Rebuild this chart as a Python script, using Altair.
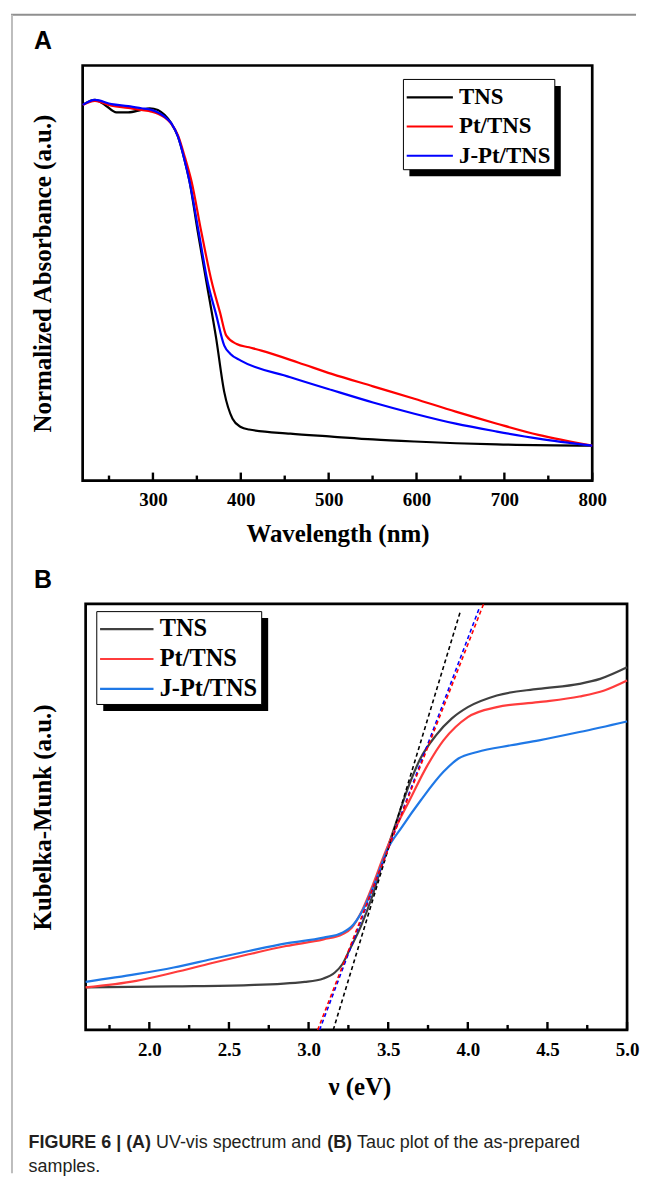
import altair as alt
import pandas as pd

SERIES = ["TNS", "Pt/TNS", "J-Pt/TNS"]
COLORS_A = ["#000000", "#ff0000", "#0000ff"]
COLORS_B = ["#404040", "#ff3c3c", "#1f78e6"]

# ---------------- Panel A: UV-vis spectrum ----------------
A_TNS_WL = [220, 234, 245.3, 258.5, 271.8, 286.8, 296.3, 305.7, 313.2, 320.8, 328.4, 335.9,
            341.6, 351, 361, 371.8, 381.2, 390.6, 400, 409.4, 456.4, 503.5, 550.5, 597.6, 691.6, 800]
A_TNS_ABS = [0.905, 0.917, 0.905, 0.887, 0.887, 0.893, 0.897, 0.893, 0.881, 0.861, 0.829, 0.773,
             0.721, 0.60, 0.477, 0.345, 0.213, 0.149, 0.129, 0.123, 0.113, 0.106, 0.099, 0.094, 0.087, 0.084]
A_PT_WL = [220, 234, 252.9, 271.8, 286.8, 298.2, 305.7, 313.2, 320.8, 328.4, 336.5, 343.9, 355,
           367.1, 376.5, 383.5, 395.3, 409.4, 423.5, 465.9, 503.5, 550.5, 597.6, 644.6, 691.6, 738.7, 800]
A_PT_ABS = [0.905, 0.915, 0.903, 0.898, 0.893, 0.889, 0.884, 0.875, 0.860, 0.832, 0.778, 0.721, 0.60,
            0.477, 0.404, 0.349, 0.329, 0.321, 0.313, 0.284, 0.257, 0.227, 0.197, 0.166, 0.137, 0.110, 0.084]
A_JPT_WL = [220, 234, 252.9, 271.8, 286.8, 298.2, 305.7, 313.2, 320.8, 328.4, 335.9, 341.6, 352,
            362.4, 371.8, 381.2, 388.2, 400, 456.4, 503.5, 550.5, 597.6, 644.6, 691.6, 738.7, 800]
A_JPT_ABS = [0.905, 0.917, 0.907, 0.902, 0.897, 0.893, 0.887, 0.877, 0.861, 0.829, 0.773, 0.721, 0.60,
             0.477, 0.401, 0.325, 0.305, 0.289, 0.249, 0.218, 0.188, 0.161, 0.137, 0.118, 0.101, 0.084]
A_MAJOR = [300, 400, 500, 600, 700, 800]
A_MINOR = [250, 350, 450, 550, 650, 750]

# ---------------- Panel B: Tauc plot ----------------
B_TNS_EV = [1.6, 2.153, 2.624, 2.976, 3.094, 3.165, 3.212, 3.259, 3.329, 3.4, 3.471, 3.541, 3.635,
            3.7, 3.8, 3.9, 4.0, 4.182, 4.442, 4.701, 4.831, 5.0]
B_TNS_KM = [0.427, 0.437, 0.45, 0.483, 0.517, 0.577, 0.66, 0.81, 1.043, 1.343, 1.71, 2.043, 2.477,
            2.72, 2.96, 3.13, 3.243, 3.36, 3.427, 3.477, 3.527, 3.643]
B_PT_EV = [1.6, 1.918, 2.153, 2.388, 2.624, 2.859, 3.094, 3.212, 3.271, 3.329, 3.4, 3.471, 3.541,
           3.635, 3.741, 3.847, 3.923, 4.0, 4.182, 4.442, 4.701, 4.857, 5.0]
B_PT_KM = [0.427, 0.493, 0.577, 0.67, 0.76, 0.843, 0.91, 0.96, 1.027, 1.177, 1.443, 1.743, 2.01,
           2.31, 2.643, 2.91, 3.043, 3.143, 3.243, 3.293, 3.35, 3.41, 3.51]
B_JPT_EV = [1.6, 1.918, 2.153, 2.388, 2.624, 2.859, 3.094, 3.212, 3.282, 3.353, 3.424, 3.494, 3.588,
            3.706, 3.847, 3.941, 4.059, 4.271, 4.447, 4.701, 5.0]
B_JPT_KM = [0.483, 0.56, 0.627, 0.71, 0.793, 0.87, 0.927, 0.977, 1.06, 1.243, 1.51, 1.81, 2.043,
            2.31, 2.593, 2.727, 2.793, 2.86, 2.91, 2.993, 3.1]
# linear-fit (tangent) lines: two end points each
FIT_TNS_EV = [3.155, 3.954]
FIT_TNS_KM = [0.0, 4.21]
FIT_PT_EV = [3.057, 4.099]
FIT_PT_KM = [0.0, 4.28]
FIT_JPT_EV = [3.069, 4.073]
FIT_JPT_KM = [0.0, 4.243]
B_MAJOR = [2.0, 2.5, 3.0, 3.5, 4.0, 4.5, 5.0]
B_MINOR = [1.75, 2.25, 2.75, 3.25, 3.75, 4.25, 4.75]

CAPTION_1 = ["FIGURE 6 | (A)", "UV-vis spectrum and", "(B)", "Tauc plot of the as-prepared"]
CAPTION_2 = "samples."

SERIF = "Liberation Serif"
SANS = "Liberation Sans"

df_a = pd.concat([
    pd.DataFrame({"wl": A_TNS_WL, "absorb": A_TNS_ABS, "series": SERIES[0]}),
    pd.DataFrame({"wl": A_PT_WL, "absorb": A_PT_ABS, "series": SERIES[1]}),
    pd.DataFrame({"wl": A_JPT_WL, "absorb": A_JPT_ABS, "series": SERIES[2]}),
], ignore_index=True)
df_b = pd.concat([
    pd.DataFrame({"ev": B_TNS_EV, "km": B_TNS_KM, "series": SERIES[0]}),
    pd.DataFrame({"ev": B_PT_EV, "km": B_PT_KM, "series": SERIES[1]}),
    pd.DataFrame({"ev": B_JPT_EV, "km": B_JPT_KM, "series": SERIES[2]}),
], ignore_index=True)
fits = [
    (pd.DataFrame({"ev": FIT_TNS_EV, "km": FIT_TNS_KM}), "#000000"),
    (pd.DataFrame({"ev": FIT_JPT_EV, "km": FIT_JPT_KM}), "#0000ff"),
    (pd.DataFrame({"ev": FIT_PT_EV, "km": FIT_PT_KM}), "#ff0000"),
]

WA, HA = 512, 417
WB, HB = 544, 428

x_axis_common = dict(grid=False, domain=False, ticks=False, tickSize=0, labelFont=SERIF,
                     labelFontSize=19, labelFontWeight="bold", labelColor="black",
                     labelFlush=False, labelOverlap=False, labelBound=False,
                     titleFont=SERIF, titleFontSize=25, titleFontWeight="bold", titleColor="black",
                     titleAlign="center", titleBaseline="alphabetic")
y_axis_common = dict(grid=False, domain=False, ticks=False, labels=False, titleFont=SERIF,
                     titleFontSize=25, titleFontWeight="bold", titleColor="black",
                     titleAngle=270, titleAlign="center", titleBaseline="middle")

xa = alt.X("wl:Q", scale=alt.Scale(domain=[220, 800], nice=False, zero=False),
           axis=alt.Axis(values=A_MAJOR, format="d", title="Wavelength (nm)", labelPadding=10,
                         titleX=WA / 2, titleY=61, **x_axis_common))
ya = alt.Y("absorb:Q", scale=alt.Scale(domain=[0, 1], nice=False, zero=False),
           axis=alt.Axis(title="Normalized Absorbance (a.u.)", titleX=-40.5, titleY=HA / 2,
                         **y_axis_common))
xb = alt.X("ev:Q", scale=alt.Scale(domain=[1.6, 5.0], nice=False, zero=False),
           axis=alt.Axis(values=B_MAJOR, format=".1f", title="ν (eV)", labelPadding=11,
                         titleX=275, titleY=65, **x_axis_common))
yb = alt.Y("km:Q", scale=alt.Scale(domain=[0, 4.28], nice=False, zero=False),
           axis=alt.Axis(title="Kubelka-Munk (a.u.)", titleX=-43, titleY=HB / 2, **y_axis_common))

one = pd.DataFrame({"k": [0]})


def text_at(txt, x, y, size, weight="bold", font=SERIF, color="black", align="left", baseline="alphabetic"):
    return alt.Chart(one).mark_text(text=txt, font=font, fontSize=size, fontWeight=weight, color=color,
                                    align=align, baseline=baseline).encode(x=alt.value(x), y=alt.value(y))


def ticks_layer(df, xenc, h, length):
    return alt.Chart(df).mark_rule(color="black", strokeWidth=2.4).encode(
        x=xenc, y=alt.value(h), y2=alt.value(h - length))


def legend_layers(box, shadow, line_x, ys, text_x, colors, size, lw):
    layers = [
        alt.Chart(one).mark_rect(color="black").encode(
            x=alt.value(shadow[0]), x2=alt.value(shadow[2]), y=alt.value(shadow[1]), y2=alt.value(shadow[3])),
        alt.Chart(one).mark_rect(fill="white", stroke="black", strokeWidth=1).encode(
            x=alt.value(box[0]), x2=alt.value(box[2]), y=alt.value(box[1]), y2=alt.value(box[3])),
    ]
    for name, col, yy in zip(SERIES, colors, ys):
        d = pd.DataFrame({"series": [name]})
        layers.append(alt.Chart(d).mark_rule(color=col, strokeWidth=lw).encode(
            x=alt.value(line_x[0]), x2=alt.value(line_x[1]), y=alt.value(yy)))
        layers.append(alt.Chart(d).mark_text(font=SERIF, fontSize=size, fontWeight="bold", color="black",
                                             align="left", baseline="middle").encode(
            x=alt.value(text_x), y=alt.value(yy), text="series:N"))
    return layers


# ---- panel A layers ----
a_lines = alt.Chart(df_a).mark_line(strokeWidth=2.2, interpolate="monotone").encode(
    x=xa, y=ya,
    color=alt.Color("series:N", scale=alt.Scale(domain=SERIES, range=COLORS_A), legend=None),
    detail="series:N")
a_major = ticks_layer(pd.DataFrame({"wl": A_MAJOR}), xa, HA, 8)
a_minor = ticks_layer(pd.DataFrame({"wl": A_MINOR}), xa, HA, 5)
frame_top = alt.Chart(one).mark_rule(color="#8f8f8f", strokeWidth=2).encode(
    x=alt.value(-72), x2=alt.value(556), y=alt.value(-51))
frame_left = alt.Chart(one).mark_rule(color="#bdbdbd", strokeWidth=2).encode(
    x=alt.value(-71), y=alt.value(-51), y2=alt.value(1113))
label_a = text_at("A", -49, -17, 25, font=SANS)
legend_a = legend_layers(box=(322.3, 14, 474.4, 104.7), shadow=(328.3, 20.5, 480.4, 111.2),
                         line_x=(325.6, 372), ys=(32, 61.3, 90.7), text_x=378.1,
                         colors=COLORS_A, size=23, lw=2.2)

panel_a = alt.layer(frame_top, frame_left, label_a, a_major, a_minor, a_lines, *legend_a).properties(
    width=WA, height=HA, view=alt.ViewBackground(stroke="black", strokeWidth=2.7))

# ---- panel B layers ----
b_lines = alt.Chart(df_b).mark_line(strokeWidth=2.2, interpolate="monotone").encode(
    x=xb, y=yb,
    color=alt.Color("series:N", scale=alt.Scale(domain=SERIES, range=COLORS_B), legend=None),
    detail="series:N")
b_fits = [alt.Chart(d).mark_line(strokeWidth=1.6, strokeDash=[4, 3], color=c).encode(x=xb, y=yb)
          for d, c in fits]
b_major = ticks_layer(pd.DataFrame({"ev": B_MAJOR}), xb, HB, 8)
b_minor = ticks_layer(pd.DataFrame({"ev": B_MINOR}), xb, HB, 5)
label_b = text_at("B", -52, -16, 25, font=SANS)
legend_b = legend_layers(box=(11.2, 7.7, 176.9, 101), shadow=(17.7, 14.2, 183.4, 107.5),
                         line_x=(14.5, 68.2), ys=(25.3, 55.3, 85.3), text_x=74.4,
                         colors=COLORS_B, size=24.5, lw=2.2)
cap_color = "#231f20"
cap_y1, cap_y2 = 547, 571
caption = [
    text_at(CAPTION_1[0], -57.3, cap_y1, 18, font=SANS, color=cap_color),
    text_at(CAPTION_1[1], 70.7, cap_y1, 18, weight="normal", font=SANS, color=cap_color),
    text_at(CAPTION_1[2], 242.7, cap_y1, 18, font=SANS, color=cap_color),
    text_at(CAPTION_1[3], 272.7, cap_y1, 18, weight="normal", font=SANS, color=cap_color),
    text_at(CAPTION_2, -57.3, cap_y2, 18, weight="normal", font=SANS, color=cap_color),
]

panel_b = alt.layer(label_b, b_major, b_minor, b_lines, *b_fits, *legend_b, *caption).properties(
    width=WB, height=HB, view=alt.ViewBackground(stroke="black", strokeWidth=2.7))

spacer = alt.Chart(one).mark_point(opacity=0).encode(x=alt.value(0), y=alt.value(0)).properties(
    width=3, height=HB)

row_b = alt.hconcat(spacer, panel_b, spacing=0, bounds="flush").resolve_scale(color="independent")

chart = alt.vconcat(panel_a, row_b, spacing=124, bounds="flush").resolve_scale(
    color="independent", x="independent", y="independent").properties(
    padding={"left": 0, "top": 1, "right": 0, "bottom": 0}).configure_view(stroke="transparent")

chart.save("out.html", embed_options={"renderer": "svg", "actions": False})
